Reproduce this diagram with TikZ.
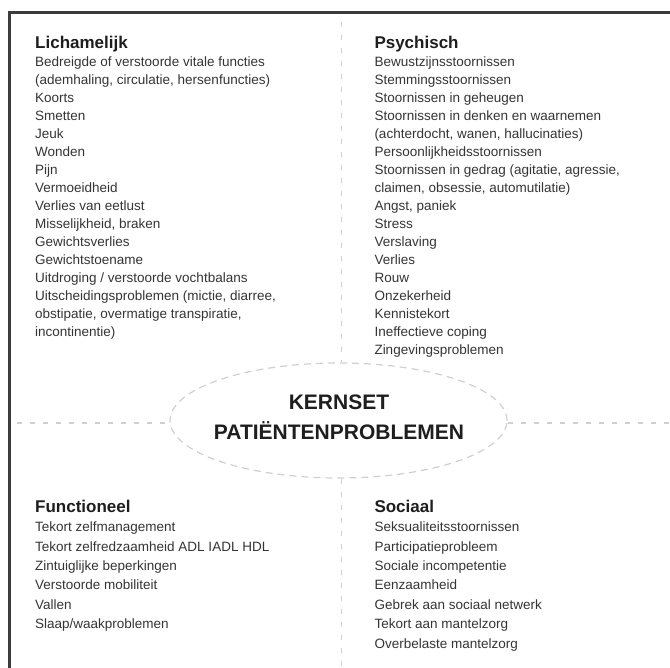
\documentclass[tikz,border=0pt]{standalone}
\usepackage{fontspec}
\setmainfont{Liberation Sans}
\usetikzlibrary{shapes.geometric}
\definecolor{txt}{HTML}{353535}
\definecolor{ttlc}{HTML}{1E1E1E}
\definecolor{framec}{HTML}{3C3C3C}
\definecolor{dashc}{HTML}{D0D0D0}
\newcommand\colbox[2]{\vtop{\baselineskip=#1\lineskiplimit=-100pt\lineskip=0pt\relax #2}}
\newcommand\ttlline[1]{\hbox{\color{ttlc}\bfseries\fontsize{17}{17}\selectfont #1}}
\newcommand\rowline[1]{\hbox{#1}}
\begin{document}
\begin{tikzpicture}[x=1pt,y=-1pt,
  colnode/.style={anchor=base west, inner sep=0pt, text=txt, font=\fontsize{13.5}{18}\selectfont},
  sepline/.style={draw=dashc, line width=1.2pt, dash pattern=on 5pt off 8pt},
  framestyle/.style={draw=framec, line width=3pt},
  coreell/.style={ellipse, draw=dashc, line width=1.2pt, dash pattern=on 7pt off 5pt, minimum width=337pt, minimum height=115pt, inner sep=0pt},
  coretext/.style={anchor=north, inner sep=0pt, align=center, text=ttlc, font=\bfseries\fontsize{21}{29.3}\selectfont}]
\useasboundingbox (0,0) rectangle (670,668);
\fill[white] (0,0) rectangle (670,668);
% frame
\draw[framestyle] (9.7,668) -- (9.7,13) -- (670,13);
% centre
\node[coreell] (core) at (338.5,420.5) {};
\node[coretext] (coretxt) at (339,395) {KERNSET\\PATIËNTENPROBLEMEN};
% separators
\coordinate (vtop) at (341.5,22);
\coordinate (vbot) at (341.5,668);
\coordinate (hl) at (17,423);
\coordinate (hr) at (670,423);
\draw[sepline] (vtop) -- (vtop |- core.north);
\draw[sepline] (vbot |- core.south) -- (vbot);
\draw[sepline] (hl) -- (hl -| core.west);
\draw[sepline] (hr -| core.east) -- (hr);
% columns
\node[colnode] (lich) at (35,48.5) {\colbox{18pt}{%
\ttlline{Lichamelijk}
\rowline{Bedreigde of verstoorde vitale functies}
\rowline{(ademhaling, circulatie, hersenfuncties)}
\rowline{Koorts}
\rowline{Smetten}
\rowline{Jeuk}
\rowline{Wonden}
\rowline{Pijn}
\rowline{Vermoeidheid}
\rowline{Verlies van eetlust}
\rowline{Misselijkheid, braken}
\rowline{Gewichtsverlies}
\rowline{Gewichtstoename}
\rowline{Uitdroging / verstoorde vochtbalans}
\rowline{Uitscheidingsproblemen (mictie, diarree,}
\rowline{obstipatie, overmatige transpiratie,}
\rowline{incontinentie)}}};
\node[colnode] (psych) at (374.3,48.5) {\colbox{18pt}{%
\ttlline{Psychisch}
\rowline{Bewustzijnsstoornissen}
\rowline{Stemmingsstoornissen}
\rowline{Stoornissen in geheugen}
\rowline{Stoornissen in denken en waarnemen}
\rowline{(achterdocht, wanen, hallucinaties)}
\rowline{Persoonlijkheidsstoornissen}
\rowline{Stoornissen in gedrag (agitatie, agressie,}
\rowline{claimen, obsessie, automutilatie)}
\rowline{Angst, paniek}
\rowline{Stress}
\rowline{Verslaving}
\rowline{Verlies}
\rowline{Rouw}
\rowline{Onzekerheid}
\rowline{Kennistekort}
\rowline{Ineffectieve coping}
\rowline{Zingevingsproblemen}}};
\node[colnode] (func) at (35,512.3) {\colbox{19.4pt}{%
\ttlline{Functioneel}
\rowline{Tekort zelfmanagement}
\rowline{Tekort zelfredzaamheid ADL IADL HDL}
\rowline{Zintuiglijke beperkingen}
\rowline{Verstoorde mobiliteit}
\rowline{Vallen}
\rowline{Slaap/waakproblemen}}};
\node[colnode] (soc) at (374.3,512.3) {\colbox{19.4pt}{%
\ttlline{Sociaal}
\rowline{Seksualiteitsstoornissen}
\rowline{Participatieprobleem}
\rowline{Sociale incompetentie}
\rowline{Eenzaamheid}
\rowline{Gebrek aan sociaal netwerk}
\rowline{Tekort aan mantelzorg}
\rowline{Overbelaste mantelzorg}}};
\end{tikzpicture}
\end{document}
